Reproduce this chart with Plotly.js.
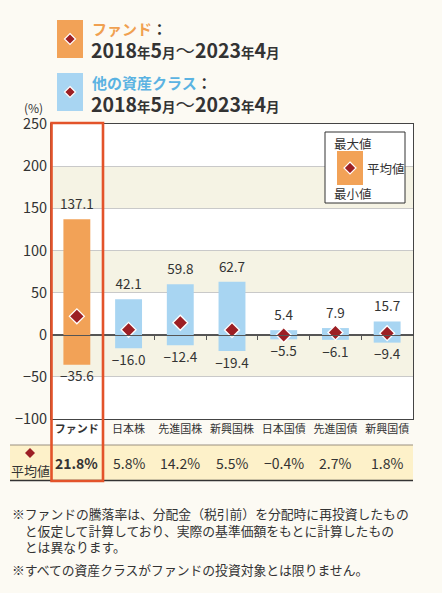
<!DOCTYPE html>
<html>
<head>
<meta charset="utf-8">
<script src="https://cdn.plot.ly/plotly-3.0.1.min.js"></script>
<style>
  html, body { margin: 0; padding: 0; background: #fcfaf3; }
  #chart { width: 442px; height: 593px; }
</style>
</head>
<body>
<div id="chart"></div>
<script>
// ---- data ----
const categories = ["ファンド", "日本株", "先進国株", "新興国株", "日本国債", "先進国債", "新興国債"];
const maxValues = [137.1, 42.1, 59.8, 62.7, 5.4, 7.9, 15.7];
const minValues = [-35.6, -16.0, -12.4, -19.4, -5.5, -6.1, -9.4];
const avgValues = [21.8, 5.8, 14.2, 5.5, -0.4, 2.7, 1.8];
const yTicks = [-100, -50, 0, 50, 100, 150, 200, 250];
const periodText = ["2018", "5", "2023", "4"];

// ---- style ----
const FONT = '"Noto Sans CJK JP", "Noto Sans", sans-serif';
const ORANGE = '#f2a257';
const BLUE = '#a8d5f2';
const DIAMOND = '#9c1f24';
const TXT = '#333333';
const BG = '#fcfaf3';
const BAND = '#f5f3e4';
const RED = '#e3532a';

const W = 442, H = 593;
const M = {l: 51, r: 29, t: 124, b: 174};
const PW = W - M.l - M.r, PH = H - M.t - M.b;
const px = x => (x - M.l) / PW;
const py = y => (H - M.b - y) / PH;

const fmt = v => v.toFixed(1).replace('-', '\u2212');

const barColors = categories.map((c, i) => i === 0 ? ORANGE : BLUE);

const traces = [
  {
    type: 'bar', x: categories, base: minValues,
    y: maxValues.map((v, i) => v - minValues[i]),
    marker: {color: barColors, line: {width: 0}},
    width: 0.52, hoverinfo: 'skip', showlegend: false
  },
  {
    type: 'scatter', mode: 'markers+text', x: categories, y: maxValues,
    text: maxValues.map(fmt), textposition: 'top center',
    marker: {size: 9, opacity: 0},
    textfont: {family: FONT, size: 13.5, color: TXT},
    hoverinfo: 'skip', showlegend: false, cliponaxis: false
  },
  {
    type: 'scatter', mode: 'markers+text', x: categories, y: minValues,
    text: minValues.map(fmt), textposition: 'bottom center',
    marker: {size: 9, opacity: 0},
    textfont: {family: FONT, size: 13.5, color: TXT},
    hoverinfo: 'skip', showlegend: false, cliponaxis: false
  },
  {
    type: 'scatter', mode: 'markers', x: categories, y: avgValues,
    marker: {symbol: 'diamond', size: 11.5, color: DIAMOND, line: {color: '#ffffff', width: 1.3}},
    hoverinfo: 'skip', showlegend: false, cliponaxis: false
  },
  {
    type: 'scatter', mode: 'markers', x: categories, y: avgValues, xaxis: 'x2',
    marker: {opacity: 0, size: 1}, hoverinfo: 'skip', showlegend: false
  }
];

const shapes = [];
// alternating bands
for (let i = 0; i < yTicks.length - 1; i++) {
  if (i % 2 === 1) {
    shapes.push({type: 'rect', xref: 'paper', yref: 'y', x0: 0, x1: 1, y0: yTicks[i], y1: yTicks[i + 1],
      fillcolor: BAND, line: {width: 0}, layer: 'below'});
  }
}
function rectPx(x0, y0, x1, y1, fill, line, layer) {
  shapes.push({type: 'rect', xref: 'paper', yref: 'paper', x0: px(x0), x1: px(x1), y0: py(y1), y1: py(y0),
    fillcolor: fill, line: line || {width: 0}, layer: layer || 'above'});
}
function diamondPx(cx, cy, r, outline) {
  const p = `M ${px(cx)} ${py(cy - r)} L ${px(cx + r)} ${py(cy)} L ${px(cx)} ${py(cy + r)} L ${px(cx - r)} ${py(cy)} Z`;
  shapes.push({type: 'path', xref: 'paper', yref: 'paper', path: p, fillcolor: DIAMOND,
    line: outline ? {color: '#ffffff', width: 1.2} : {width: 0}, layer: 'above'});
}
// top legend squares
rectPx(57, 20, 83, 58, ORANGE);
diamondPx(70, 39, 5.5, true);
rectPx(57, 73, 83, 111, BLUE);
diamondPx(70, 92, 5.5, true);
// table row
rectPx(10, 445, 413, 480, '#fdf1c9', null, 'below');
rectPx(51, 419.5, 103, 445, '#ffffff', null, 'below');
shapes.push({type: 'line', xref: 'paper', yref: 'paper', x0: px(10), x1: px(413), y0: py(445), y1: py(445), line: {color: '#9a9080', width: 1}});
shapes.push({type: 'line', xref: 'paper', yref: 'paper', x0: px(10), x1: px(413), y0: py(480.5), y1: py(480.5), line: {color: '#333333', width: 1.5}});
diamondPx(30, 453, 5, false);
// in-plot legend box
rectPx(325, 132, 405, 203, '#ffffff', {color: '#333333', width: 1});
rectPx(337, 151, 363, 185, ORANGE);
diamondPx(350, 168, 6, true);
// red highlight box
rectPx(51.5, 123, 103, 481, 'rgba(0,0,0,0)', {color: RED, width: 2.6});

function period() {
  const s = 'style="font-size:13.5px"';
  const w = 'style="font-weight:normal"';
  return `<b>${periodText[0]}</b><b><span ${s}>年</span></b><b>${periodText[1]}</b><b><span ${s}>月</span></b>` +
    `<span ${w}>～</span><b>${periodText[2]}</b><b><span ${s}>年</span></b><b>${periodText[3]}</b><b><span ${s}>月</span></b>`;
}

const annotations = [];
function textPx(x, y, text, size, anchor, extra) {
  annotations.push(Object.assign({xref: 'paper', yref: 'paper', x: px(x), y: py(y), text: text,
    showarrow: false, xanchor: anchor || 'left', yanchor: 'middle', align: 'left',
    font: {family: FONT, size: size, color: TXT}}, extra || {}));
}
textPx(90, 28, '<b><span style="color:#f0a050">ファンド</span>：</b>', 15);
textPx(89, 50, period(), 19.5);
textPx(90, 82, '<b><span style="color:#5bb3e2">他の資産クラス</span>：</b>', 15);
textPx(89, 104, period(), 19.5);
textPx(33, 107, '(%)', 12, 'center');
// legend texts
textPx(332, 143, '最大値', 12.5);
textPx(365, 168, '平均値', 12.5);
textPx(332, 193, '最小値', 12.5);
// table
textPx(30, 470, '平均値', 13, 'center');
avgValues.forEach((v, i) => {
  const t = fmt(v) + '%';
  annotations.push({xref: 'x', yref: 'paper', x: categories[i], y: py(463),
    text: i === 0 ? '<b>' + t + '</b>' : t, showarrow: false, xanchor: 'center', yanchor: 'middle',
    font: {family: FONT, size: 14, color: TXT}});
});
// notes
textPx(10, 529.5, '※ファンドの騰落率は、分配金（税引前）を分配時に再投資したもの<br>' +
  '　と仮定して計算しており、実際の基準価額をもとに計算したもの<br>' +
  '　とは異なります。', 12.8);
textPx(10, 569, '※すべての資産クラスがファンドの投資対象とは限りません。', 12.8);

const layout = {
  width: W, height: H,
  margin: M,
  paper_bgcolor: BG,
  plot_bgcolor: '#ffffff',
  font: {family: FONT, color: TXT},
  xaxis: {
    type: 'category', categoryarray: categories, range: [-0.5, categories.length - 0.5],
    tickvals: categories,
    ticktext: categories.map((c, i) => i === 0 ? '<b>' + c + '</b>' : c),
    tickfont: {family: FONT, size: 11, color: TXT}, tickangle: 0,
    ticks: '', ticklen: 0, showgrid: false, zeroline: false,
    showline: true, mirror: true, linecolor: '#444444', linewidth: 1,
    fixedrange: true
  },
  xaxis2: {
    type: 'category', matches: 'x', overlaying: 'x', anchor: 'free', position: 100 / 350,
    side: 'bottom', ticks: 'outside', ticklen: 4, tickwidth: 1, tickcolor: '#555555',
    tickson: 'boundaries', showticklabels: false, showline: true, linecolor: '#555555', linewidth: 1.2,
    showgrid: false, zeroline: false, layer: 'above traces'
  },
  yaxis: {
    range: [yTicks[0], yTicks[yTicks.length - 1]], tickvals: yTicks,
    tickfont: {family: FONT, size: 14.5, color: TXT},
    ticks: '', showgrid: true, gridcolor: '#c9c9c9', gridwidth: 1,
    zeroline: true, zerolinecolor: '#555555', zerolinewidth: 1.2,
    showline: true, mirror: true, linecolor: '#444444', linewidth: 1,
    fixedrange: true
  },
  shapes: shapes,
  annotations: annotations,
  showlegend: false
};

Plotly.newPlot('chart', traces, layout, {displayModeBar: false, staticPlot: true});
</script>
</body>
</html>
